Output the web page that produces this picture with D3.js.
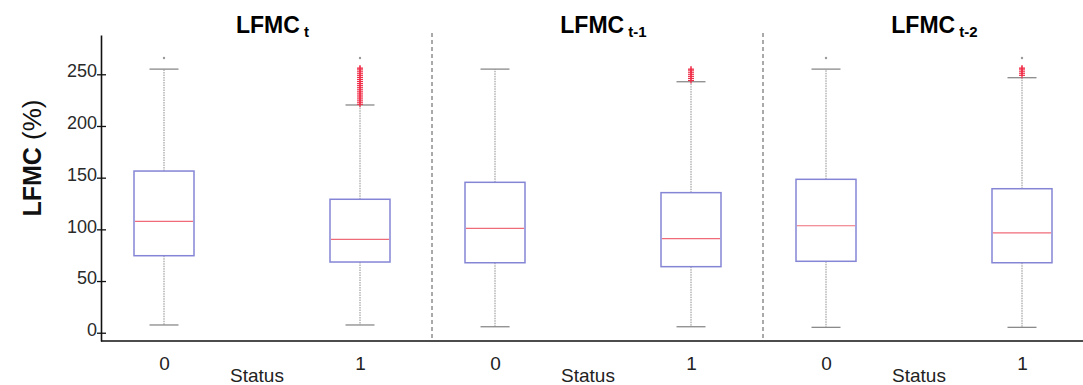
<!DOCTYPE html>
<html>
<head>
<meta charset="utf-8">
<script src="https://cdn.jsdelivr.net/npm/d3@7"></script>
<style>
  html, body { margin: 0; padding: 0; background: #fff; }
  svg { display: block; font-family: "Liberation Sans", Arial, sans-serif; }
</style>
</head>
<body>
<svg id="chart" width="1083" height="385"></svg>
<script>
// ---- data ----
const panels = ["t", "t-1", "t-2"];
const statuses = ["0", "1"];
const yTicks = [0, 50, 100, 150, 200, 250];
// [panel][status]
const whiskerLow = [[7.5, 7.5], [5.8, 5.8], [5.2, 5.2]];
const q1 = [[74.5, 68.4], [67.7, 63.9], [69.1, 67.7]];
const median = [[107.8, 90.4], [101.0, 91.0], [103.5, 96.5]];
const q3 = [[156.4, 129.1], [145.5, 135.5], [148.4, 139.3]];
const whiskerHigh = [[255, 220.3], [255, 242.8], [255, 246.7]];
const outliers = [
  [[], [221, 223, 225, 227, 229, 231, 233, 235, 237, 239, 241, 243, 245, 247, 249, 251, 253, 255, 256]],
  [[], [244, 246, 248, 250, 252, 254, 255]],
  [[], [249, 251, 253, 255, 256]]
];
const topMarks = [[265.7, 265.7], [null, null], [265.7, 265.7]];

// ---- layout ----
const svg = d3.select("#chart");
const mLeft = 101, mRight = 1094, mTop = 35, mBottom = 341;

const y = d3.scaleLinear().domain([-8, 288]).range([mBottom, mTop]);
const xPanel = d3.scaleBand().domain(panels).range([mLeft, mRight]).padding(0);
const xStatus = d3.scalePoint().domain(statuses).range([63, 259]);
const boxW = 60, capW = 29;

// y axis
const yAxis = svg.append("g")
  .attr("transform", `translate(${mLeft},0)`)
  .call(d3.axisLeft(y).tickValues(yTicks).tickSizeInner(-5).tickSizeOuter(0).tickPadding(4));
yAxis.select(".domain").attr("stroke", "#111").attr("stroke-width", 1.6);
yAxis.selectAll(".tick line").attr("stroke", "#111").attr("stroke-width", 1.3).attr("x1", -4);
yAxis.selectAll(".tick text")
  .attr("fill", "#2a2a2a").style("font-size", "18px").style("font-family", "Liberation Sans, Arial, sans-serif")
  .attr("dy", "0.15em");

// y title
const yt = svg.append("text")
  .attr("transform", "translate(41,158) rotate(-90)")
  .attr("text-anchor", "middle").attr("fill", "#111");
yt.append("tspan").text("LFMC").style("font-weight", "bold").style("font-size", "25px");
yt.append("tspan").text(" (%)").style("font-size", "26px");

// x axis line
svg.append("line").attr("x1", mLeft).attr("x2", 1083).attr("y1", mBottom).attr("y2", mBottom)
  .attr("stroke", "#111").attr("stroke-width", 1.6);

// dividers
panels.slice(1).forEach(p => {
  svg.append("line")
    .attr("x1", xPanel(p)).attr("x2", xPanel(p))
    .attr("y1", 33).attr("y2", mBottom)
    .attr("stroke", "#555").attr("stroke-width", 1).attr("stroke-dasharray", "4,3");
});

panels.forEach((p, pi) => {
  const g = svg.append("g").attr("transform", `translate(${xPanel(p)},0)`);
  const cx0 = xPanel.bandwidth() / 2 + 6;

  // title
  const t = g.append("text").attr("x", cx0).attr("y", 33).attr("text-anchor", "middle")
    .attr("fill", "#000").style("font-weight", "bold");
  t.append("tspan").text("LFMC").style("font-size", "23px");
  t.append("tspan").text(" " + p).style("font-size", "15px").attr("dy", 4);

  // x labels
  const xa = g.append("g").attr("transform", `translate(0,${mBottom})`)
    .call(d3.axisBottom(xStatus).tickSize(0).tickPadding(16));
  xa.select(".domain").remove();
  xa.selectAll(".tick text").attr("fill", "#222").style("font-size", "19px")
    .style("font-family", "Liberation Sans, Arial, sans-serif");

  g.append("text").attr("x", 156).attr("y", 382).attr("text-anchor", "middle")
    .attr("fill", "#222").style("font-size", "19px").text("Status");

  statuses.forEach((s, si) => {
    const cx = xStatus(s);
    // whiskers (dotted)
    g.append("line").attr("x1", cx).attr("x2", cx)
      .attr("y1", y(q3[pi][si])).attr("y2", y(whiskerHigh[pi][si]))
      .attr("stroke", "#8c8c8c").attr("stroke-width", 1).attr("stroke-dasharray", "1.5,1");
    g.append("line").attr("x1", cx).attr("x2", cx)
      .attr("y1", y(q1[pi][si])).attr("y2", y(whiskerLow[pi][si]))
      .attr("stroke", "#8c8c8c").attr("stroke-width", 1).attr("stroke-dasharray", "1.5,1");
    // caps
    [whiskerHigh[pi][si], whiskerLow[pi][si]].forEach(v => {
      g.append("line").attr("x1", cx - capW / 2).attr("x2", cx + capW / 2)
        .attr("y1", y(v)).attr("y2", y(v))
        .attr("stroke", "#8a8a8a").attr("stroke-width", 1.3);
    });
    // box
    g.append("rect").attr("x", cx - boxW / 2).attr("width", boxW)
      .attr("y", y(q3[pi][si])).attr("height", y(q1[pi][si]) - y(q3[pi][si]))
      .attr("fill", "none").attr("stroke", "#8585d6").attr("stroke-width", 1.5);
    // median
    g.append("line").attr("x1", cx - boxW / 2 + 1).attr("x2", cx + boxW / 2 - 1)
      .attr("y1", y(median[pi][si])).attr("y2", y(median[pi][si]))
      .attr("stroke", "#ef6b78").attr("stroke-width", 1.2);
    // outliers (red +)
    outliers[pi][si].forEach(v => {
      g.append("line").attr("x1", cx - 3).attr("x2", cx + 3).attr("y1", y(v)).attr("y2", y(v))
        .attr("stroke", "#f0304a").attr("stroke-width", 1.2);
      g.append("line").attr("x1", cx).attr("x2", cx).attr("y1", y(v) - 3).attr("y2", y(v) + 3)
        .attr("stroke", "#f0304a").attr("stroke-width", 1.2);
    });
    // top grey mark
    if (topMarks[pi][si] != null) {
      g.append("circle").attr("cx", cx).attr("cy", y(topMarks[pi][si])).attr("r", 1.2)
        .attr("fill", "#999");
    }
  });
});
</script>
</body>
</html>
